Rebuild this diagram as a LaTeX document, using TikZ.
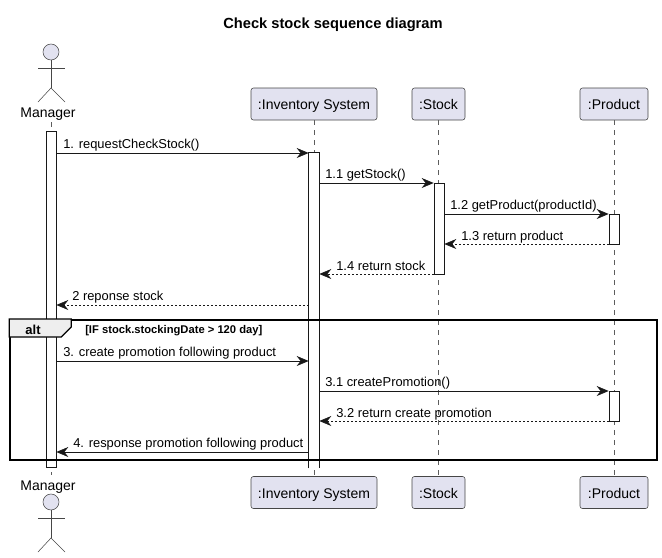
\documentclass[tikz,border=0pt]{standalone}
\usepackage{fontspec}
\setmainfont{Liberation Sans}
\usetikzlibrary{arrows.meta,positioning,calc}
\definecolor{umlbox}{HTML}{E2E2F0}
\definecolor{umlline}{HTML}{181818}
\definecolor{umltab}{HTML}{EEEEEE}
\tikzset{
    lifebox/.style={draw=umlline!80, line width=0.4pt, rounded corners=1.8pt, fill=umlbox, minimum height=24pt, inner sep=0pt, text height=10.5pt, text depth=2.2pt, font=\fontsize{10.5pt}{12pt}\selectfont},
    lifeline/.style={draw=umlline!70, line width=0.4pt, dash pattern=on 3.75pt off 3.75pt},
    activation/.style={draw=umlline, line width=0.5pt, fill=white, minimum width=7.5pt, minimum height=#1, inner sep=0pt},
    msg/.style={draw=umlline, line width=0.5pt, -{Stealth[length=9pt,width=7.5pt,inset=3pt]}},
    retmsg/.style={msg, dash pattern=on 1.5pt off 1.5pt},
    msglabel/.style={anchor=base west, inner sep=0pt, font=\fontsize{9.68pt}{11pt}\selectfont},
    actorname/.style={inner sep=0pt, font=\fontsize{10.5pt}{12pt}\selectfont},
    actorline/.style={draw=umlline!80, line width=0.4pt},
    actorhead/.style={circle, draw=umlline!80, line width=0.4pt, fill=umlbox, minimum size=12pt, inner sep=0pt}
}
\begin{document}
\begin{tikzpicture}[x=0.75pt, y=-0.75pt]
    \useasboundingbox (0,0) rectangle (662,558);

    % Title
    \node[inner sep=0pt, font=\bfseries\fontsize{11pt}{13pt}\selectfont] (title) at (333,25) {Check stock sequence diagram};

    % Top row
    \node[actorname] (managerTop) at (48,114.5) {Manager};
    \node[lifebox, minimum width=94.5pt] (inventoryTop) at (314,104) {:Inventory System};
    \node[lifebox, minimum width=39.75pt] (stockTop) at (438.5,104) {:Stock};
    \node[lifebox, minimum width=51pt] (productTop) at (614,104) {:Product};

    % Bottom row
    \node[actorname] (managerBottom) at (48,487.5) {Manager};
    \node[lifebox, minimum width=94.5pt] (inventoryBottom) at (314,492.5) {:Inventory System};
    \node[lifebox, minimum width=39.75pt] (stockBottom) at (438.5,492.5) {:Stock};
    \node[lifebox, minimum width=51pt] (productBottom) at (614,492.5) {:Product};

    % Lifelines
    \coordinate (managerTopEnd) at (51,122);
    \coordinate (managerBottomEnd) at (51,475);
    \draw[lifeline] (managerTopEnd) -- (managerBottomEnd);
    \draw[lifeline] (inventoryTop) -- (inventoryBottom);
    \draw[lifeline] (stockTop) -- (stockBottom);
    \draw[lifeline] (productTop) -- (productBottom);

    % Actor on top
    \node[actorhead] (headTop) at (51,52) {};
    \coordinate (hipTop) at (51,88);
    \coordinate (armLTop) at (38,68);
    \coordinate (armRTop) at (65,68);
    \coordinate (legLTop) at (38,102);
    \coordinate (legRTop) at (65,102);
    \draw[actorline] (headTop) -- (hipTop);
    \draw[actorline] (armLTop) -- (armRTop);
    \draw[actorline] (legLTop) -- (hipTop) -- (legRTop);

    % Actor at the bottom
    \node[actorhead] (headBottom) at (51,502) {};
    \coordinate (hipBottom) at (51,538);
    \coordinate (armLBottom) at (38,518);
    \coordinate (armRBottom) at (65,518);
    \coordinate (legLBottom) at (38,552);
    \coordinate (legRBottom) at (65,552);
    \draw[actorline] (headBottom) -- (hipBottom);
    \draw[actorline] (armLBottom) -- (armRBottom);
    \draw[actorline] (legLBottom) -- (hipBottom) -- (legRBottom);

    % Activation bars
    \node[activation=252pt] (actManager) at (51,299) {};
    \node[activation=236.25pt, draw=none] (actInventory) at (314,310.5) {};
    \draw[umlline, line width=0.5pt] (actInventory.south west) -- (actInventory.north west) -- (actInventory.north east) -- (actInventory.south east);
    \node[activation=68.25pt] (actStock) at (439,228.5) {};
    \node[activation=22.5pt] (actProductA) at (614,229) {};
    \node[activation=22.5pt] (actProductB) at (614,406) {};

    % Message rows
    \coordinate (rowA) at (0,153);
    \coordinate (rowB) at (0,183);
    \coordinate (rowC) at (0,214);
    \coordinate (rowD) at (0,244);
    \coordinate (rowE) at (0,274);
    \coordinate (rowF) at (0,305);
    \coordinate (rowG) at (0,361);
    \coordinate (rowH) at (0,391);
    \coordinate (rowI) at (0,421);
    \coordinate (rowJ) at (0,452);

    % Messages
    \draw[msg] (actManager.east |- rowA) -- (actInventory.west |- rowA);
    \draw[msg] (actInventory.east |- rowB) -- (actStock.west |- rowB);
    \draw[msg] (actStock.east |- rowC) -- (actProductA.west |- rowC);
    \draw[retmsg] (actProductA.west |- rowD) -- (actStock.east |- rowD);
    \draw[retmsg] (actStock.west |- rowE) -- (actInventory.east |- rowE);
    \draw[retmsg] (actInventory.west |- rowF) -- (actManager.east |- rowF);
    \draw[msg] (actManager.east |- rowG) -- (actInventory.west |- rowG);
    \draw[msg] (actInventory.east |- rowH) -- (actProductB.west |- rowH);
    \draw[retmsg] (actProductB.west |- rowI) -- (actInventory.east |- rowI);
    \draw[msg] (actInventory.west |- rowJ) -- (actManager.east |- rowJ);

    % Message labels
    \node[msglabel] (labelA) at (63,148) {1. requestCheckStock()};
    \node[msglabel] (labelB) at (325,178) {1.1 getStock()};
    \node[msglabel] (labelC) at (450,209) {1.2 getProduct(productId)};
    \node[msglabel] (labelD) at (461,240) {1.3 return product};
    \node[msglabel] (labelE) at (336,270) {1.4 return stock};
    \node[msglabel] (labelF) at (72,300) {2 reponse stock};
    \node[msglabel] (labelG) at (63,356) {3. create promotion following product};
    \node[msglabel] (labelH) at (325,386) {3.1 createPromotion()};
    \node[msglabel] (labelI) at (336,417) {3.2 return create promotion};
    \node[msglabel] (labelJ) at (73,447) {4. response promotion following product};

    % Alt frame
    \node[draw=black, line width=1.5pt, minimum width=485.25pt, minimum height=105pt, inner sep=0pt] (altFrame) at (333.75,390) {};
    \draw[draw=black, line width=1pt, fill=umltab] (altFrame.north west) -- ++(62,0) -- ++(0,8) -- ++(-10,10) -- ++(-52,0) -- cycle;
    \node[inner sep=0pt, font=\bfseries\fontsize{9.75pt}{11pt}\selectfont] (altTag) at (33,330) {alt};
    \node[anchor=base west, inner sep=0pt, font=\bfseries\fontsize{8.4pt}{10pt}\selectfont] (altGuard) at (85,333) {[IF stock.stockingDate > 120 day]};
\end{tikzpicture}
\end{document}
